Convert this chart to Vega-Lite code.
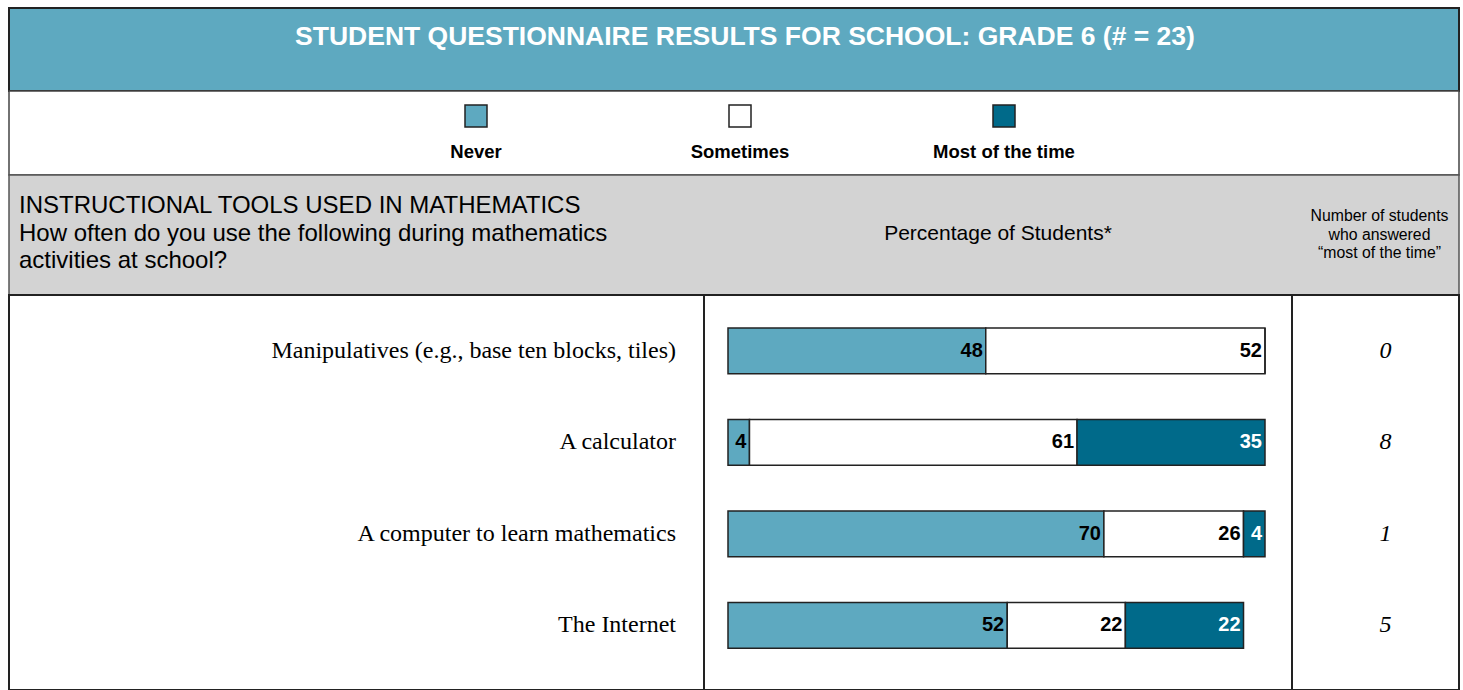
{
  "$schema": "https://vega.github.io/schema/vega-lite/v6.json",
  "padding": {"left": 8, "top": 7, "right": 0, "bottom": 0},
  "background": "white",
  "bounds": "flush",
  "config": {
    "concat": {"spacing": 0},
    "text": {"font": "Liberation Sans"},
    "view": {"stroke": "#333"}
  },
  "datasets": {
    "responses": [
      {"item": "Manipulatives (e.g., base ten blocks, tiles)", "response": "Never", "value": 48},
      {"item": "Manipulatives (e.g., base ten blocks, tiles)", "response": "Sometimes", "value": 52},
      {"item": "Manipulatives (e.g., base ten blocks, tiles)", "response": "Most of the time", "value": 0},
      {"item": "A calculator", "response": "Never", "value": 4},
      {"item": "A calculator", "response": "Sometimes", "value": 61},
      {"item": "A calculator", "response": "Most of the time", "value": 35},
      {"item": "A computer to learn mathematics", "response": "Never", "value": 70},
      {"item": "A computer to learn mathematics", "response": "Sometimes", "value": 26},
      {"item": "A computer to learn mathematics", "response": "Most of the time", "value": 4},
      {"item": "The Internet", "response": "Never", "value": 52},
      {"item": "The Internet", "response": "Sometimes", "value": 22},
      {"item": "The Internet", "response": "Most of the time", "value": 22}
    ],
    "items": [
      {"item": "Manipulatives (e.g., base ten blocks, tiles)", "most": 0},
      {"item": "A calculator", "most": 8},
      {"item": "A computer to learn mathematics", "most": 1},
      {"item": "The Internet", "most": 5}
    ],
    "legend": [
      {"response": "Never"},
      {"response": "Sometimes"},
      {"response": "Most of the time"}
    ],
    "header": [
      {"col": "tools", "label": ["INSTRUCTIONAL TOOLS USED IN MATHEMATICS", "How often do you use the following during mathematics", "activities at school?"]},
      {"col": "pct", "label": "Percentage of Students*"},
      {"col": "count", "label": ["Number of students", "who answered", "\u201cmost of the time\u201d"]}
    ]
  },
  "vconcat": [
    {
      "width": 1450,
      "height": 83,
      "view": {"fill": "#5ea9c0", "stroke": "#222", "strokeWidth": 2},
      "data": {"values": [{"title": "STUDENT QUESTIONNAIRE RESULTS FOR SCHOOL: GRADE 6 (# = 23)"}]},
      "mark": {"type": "text", "font": "Liberation Sans", "fontWeight": "bold", "fontSize": 26.5, "color": "white", "dx": 11, "baseline": "middle", "align": "center"},
      "encoding": {
        "text": {"field": "title"},
        "y": {"value": 29}
      }
    },
    {
      "width": 1450,
      "height": 84,
      "view": {"fill": "white", "stroke": "#444", "strokeWidth": 1.5},
      "data": {"name": "legend"},
      "encoding": {
        "x": {"field": "response", "type": "nominal", "scale": {"type": "point", "domain": ["Never", "Sometimes", "Most of the time"], "range": [467, 995], "padding": 0}, "axis": null}
      },
      "layer": [
        {
          "mark": {"type": "square", "size": 484, "filled": true, "opacity": 1, "stroke": "#222", "strokeWidth": 1.5},
          "encoding": {
            "y": {"value": 25},
            "color": {"field": "response", "type": "nominal", "scale": {"domain": ["Never", "Sometimes", "Most of the time"], "range": ["#5ea9c0", "#ffffff", "#006a8a"]}, "legend": null}
          }
        },
        {
          "mark": {"type": "text", "fontWeight": "bold", "fontSize": 18.5, "color": "black", "baseline": "middle"},
          "encoding": {"text": {"field": "response"}, "y": {"value": 61}}
        }
      ]
    },
    {
      "width": 1450,
      "height": 120,
      "view": {"fill": "#d3d3d3", "stroke": "#555", "strokeWidth": 1.5},
      "data": {"name": "header"},
      "resolve": {"scale": {"x": "independent"}},
      "layer": [
        {
          "transform": [{"filter": "datum.col === 'tools'"}],
          "mark": {"type": "text", "align": "left", "baseline": "middle", "fontSize": 24, "lineHeight": 27.5, "color": "black", "dx": 10},
          "encoding": {
            "x": {"field": "col", "type": "nominal", "scale": {"type": "point", "range": [0, 695], "padding": 0, "align": 0}, "axis": null},
            "y": {"value": 31},
            "text": {"field": "label"}
          }
        },
        {
          "transform": [{"filter": "datum.col === 'pct'"}],
          "mark": {"type": "text", "align": "center", "baseline": "middle", "fontSize": 21, "color": "black"},
          "encoding": {
            "x": {"field": "col", "type": "nominal", "scale": {"type": "point", "range": [695, 1283]}, "axis": null},
            "y": {"value": 59},
            "text": {"field": "label"}
          }
        },
        {
          "transform": [{"filter": "datum.col === 'count'"}],
          "mark": {"type": "text", "align": "center", "baseline": "middle", "fontSize": 15.8, "lineHeight": 18.5, "color": "black", "dx": 4},
          "encoding": {
            "x": {"field": "col", "type": "nominal", "scale": {"type": "point", "range": [1283, 1450]}, "axis": null},
            "y": {"value": 41},
            "text": {"field": "label"}
          }
        }
      ]
    },
    {
      "bounds": "flush",
      "hconcat": [
        {
          "width": 695,
          "height": 395,
          "view": {"fill": "white", "stroke": "#222", "strokeWidth": 2},
          "data": {"name": "items"},
          "mark": {"type": "text", "font": "Liberation Serif", "fontSize": 24, "align": "right", "baseline": "middle", "color": "black", "dx": -28},
          "encoding": {
            "x": {"value": "width"},
            "y": {"field": "item", "type": "nominal", "sort": null, "scale": {"type": "band", "paddingInner": 0.5, "paddingOuter": 0.4085, "align": 0.443}, "axis": null},
            "text": {"field": "item"}
          }
        },
        {
          "width": 588,
          "height": 395,
          "view": {"fill": "white", "stroke": "#222", "strokeWidth": 2},
          "data": {"name": "responses"},
          "transform": [{"window": [{"op": "row_number", "as": "k"}], "groupby": ["item"]}],
          "encoding": {
            "y": {"field": "item", "type": "nominal", "sort": null, "scale": {"type": "band", "paddingInner": 0.5, "paddingOuter": 0.4085, "align": 0.443}, "axis": null},
            "x": {"field": "value", "type": "quantitative", "stack": "zero", "scale": {"domain": [0, 100], "range": [24, 561], "nice": false}, "axis": null},
            "order": {"field": "k", "type": "quantitative"}
          },
          "layer": [
            {
              "mark": {"type": "bar", "stroke": "#222", "strokeWidth": 1.5},
              "encoding": {
                "color": {"field": "response", "type": "nominal", "scale": {"domain": ["Never", "Sometimes", "Most of the time"], "range": ["#5ea9c0", "#ffffff", "#006a8a"]}, "legend": null}
              }
            },
            {
              "mark": {"type": "text", "fontWeight": "bold", "fontSize": 20, "align": "right", "baseline": "middle", "dx": -3},
              "encoding": {
                "detail": {"field": "response", "type": "nominal"},
                "text": {"condition": {"test": "datum.value === 0", "value": ""}, "field": "value", "type": "quantitative"},
                "color": {"condition": {"test": "datum.response === 'Most of the time'", "value": "white"}, "value": "black"}
              }
            }
          ]
        },
        {
          "width": 167,
          "height": 395,
          "view": {"fill": "white", "stroke": "#222", "strokeWidth": 2},
          "data": {"name": "items"},
          "mark": {"type": "text", "font": "Liberation Serif", "fontStyle": "italic", "fontSize": 24, "align": "center", "baseline": "middle", "color": "black", "dx": 10},
          "encoding": {
            "y": {"field": "item", "type": "nominal", "sort": null, "scale": {"type": "band", "paddingInner": 0.5, "paddingOuter": 0.4085, "align": 0.443}, "axis": null},
            "text": {"field": "most"}
          }
        }
      ]
    }
  ]
}
